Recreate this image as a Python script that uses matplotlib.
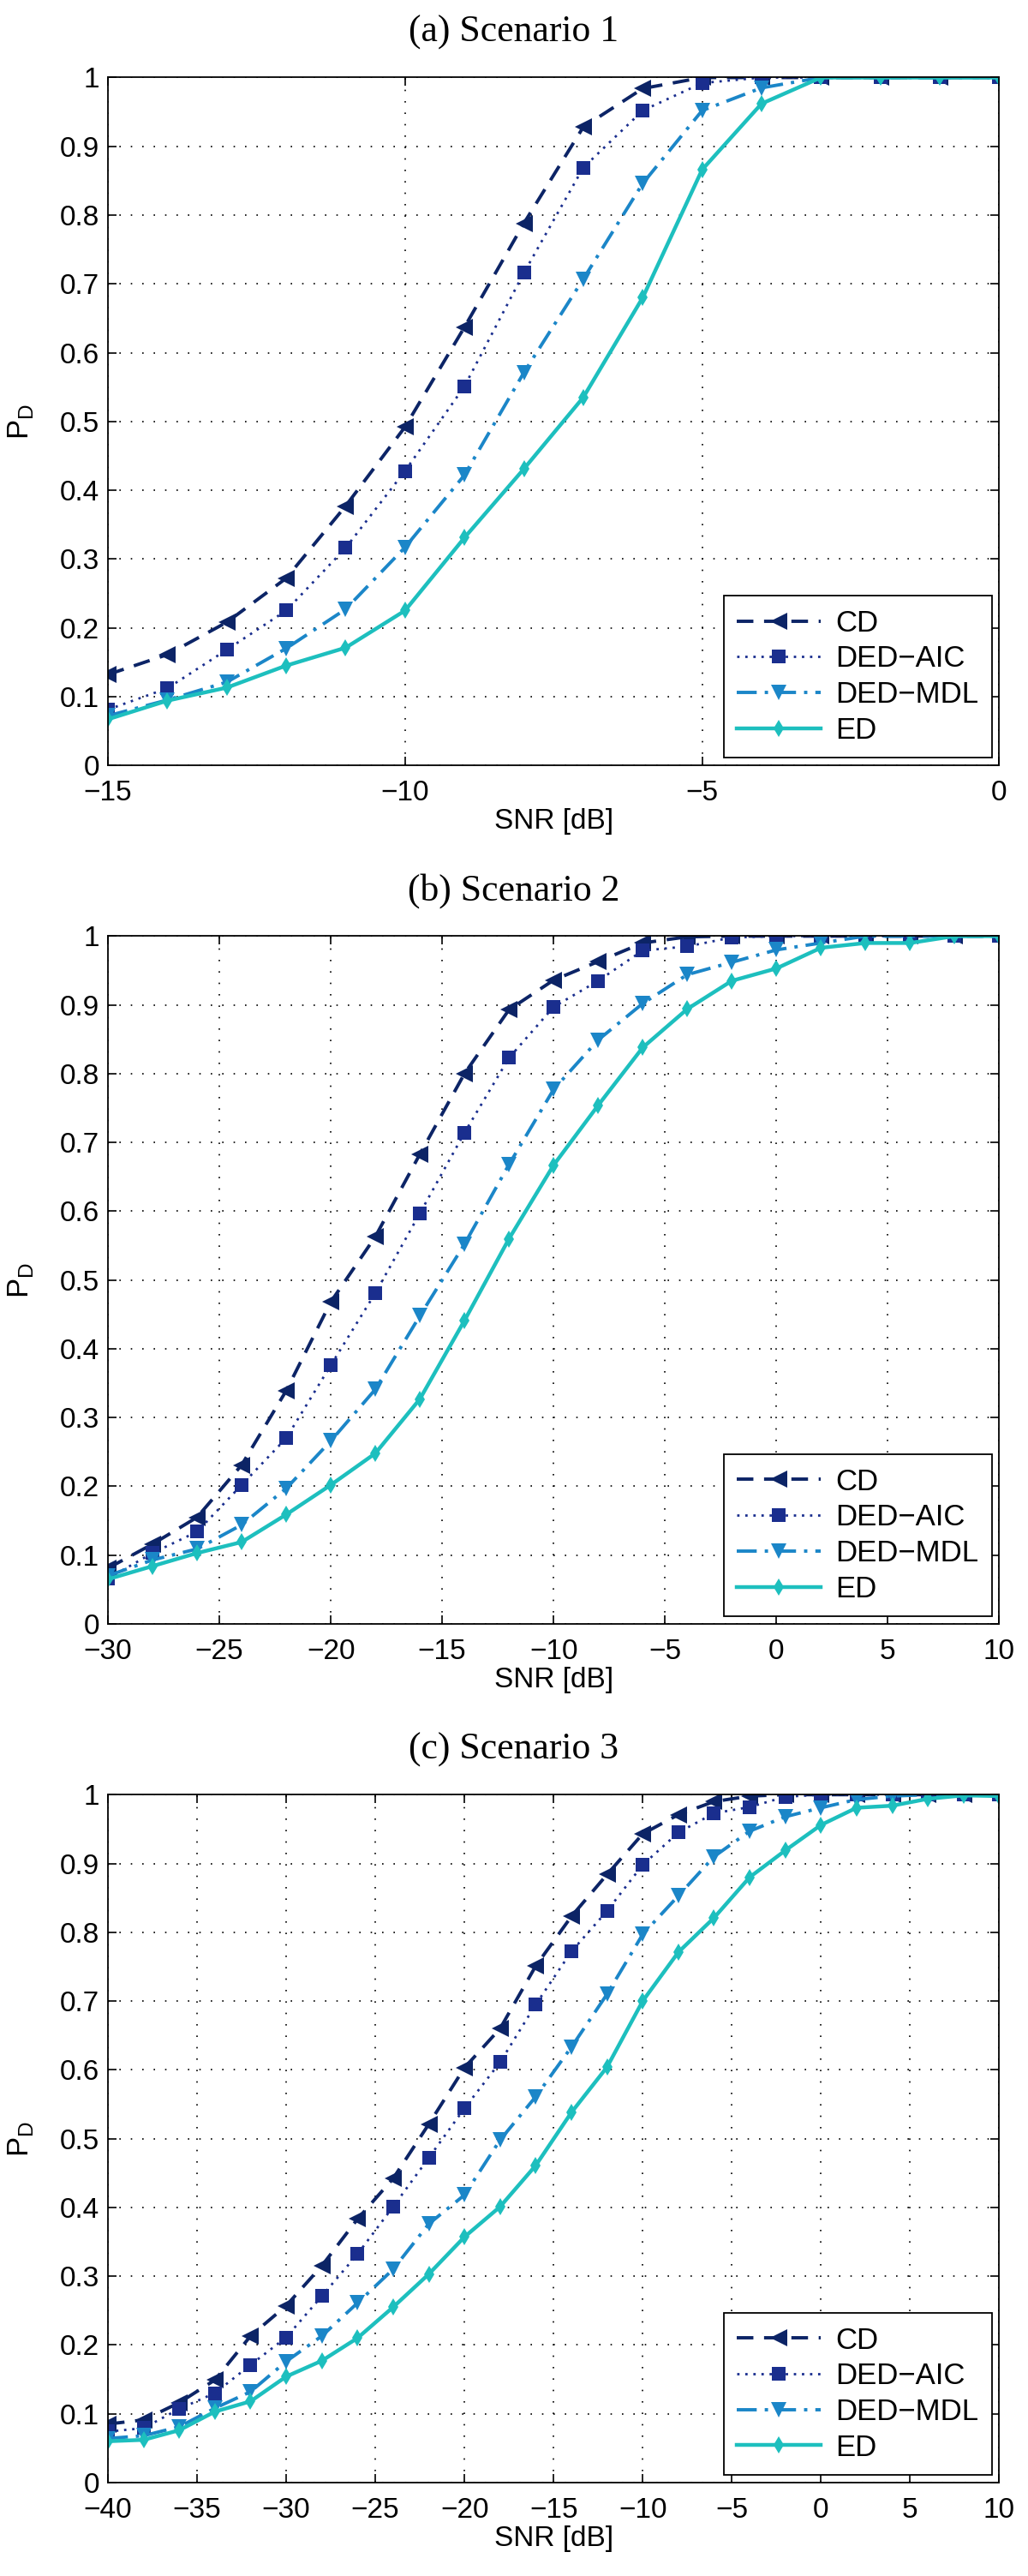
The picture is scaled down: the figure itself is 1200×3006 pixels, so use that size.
import matplotlib
matplotlib.use("Agg")
import matplotlib.pyplot as plt

plt.rcParams['font.family'] = ['Liberation Sans', 'DejaVu Sans']
plt.rcParams['mathtext.fontset'] = 'custom'
plt.rcParams['mathtext.rm'] = 'Liberation Sans'

# --- DATA ---
titles = ["(a) Scenario 1", "(b) Scenario 2", "(c) Scenario 3"]
series_names = ["CD", "DED\u2212AIC", "DED\u2212MDL", "ED"]

snr_a = list(range(-15, 1, 1))
cd_a = [0.132, 0.161, 0.208, 0.272, 0.377, 0.492, 0.637, 0.788, 0.928, 0.984, 1.0, 1.0, 1.0, 1.0, 1.0, 1.0]
aic_a = [0.081, 0.112, 0.168, 0.225, 0.316, 0.428, 0.551, 0.716, 0.869, 0.952, 0.992, 1.0, 1.0, 1.0, 1.0, 1.0]
mdl_a = [0.072, 0.095, 0.121, 0.17, 0.227, 0.317, 0.422, 0.571, 0.707, 0.846, 0.952, 0.985, 1.0, 1.0, 1.0, 1.0]
ed_a = [0.067, 0.094, 0.113, 0.145, 0.171, 0.225, 0.331, 0.431, 0.535, 0.68, 0.866, 0.962, 1.0, 1.0, 1.0, 1.0]

snr_b = list(range(-30, 11, 2))
cd_b = [0.081, 0.116, 0.155, 0.231, 0.339, 0.468, 0.563, 0.683, 0.80, 0.893, 0.936, 0.963, 0.99, 0.999, 1.0,
        1.0, 1.0, 1.0, 1.0, 1.0, 1.0]
aic_b = [0.066, 0.103, 0.134, 0.202, 0.27, 0.376, 0.481, 0.597, 0.714, 0.823, 0.897, 0.935, 0.979, 0.985, 0.998,
         1.0, 1.0, 1.0, 1.0, 1.0, 1.0]
mdl_b = [0.07, 0.093, 0.109, 0.144, 0.197, 0.266, 0.341, 0.448, 0.552, 0.668, 0.777, 0.849, 0.902, 0.944, 0.962,
         0.98, 0.99, 1.0, 1.0, 1.0, 1.0]
ed_b = [0.065, 0.084, 0.103, 0.119, 0.159, 0.202, 0.248, 0.327, 0.441, 0.56, 0.667, 0.754, 0.838, 0.894, 0.935,
        0.953, 0.983, 0.99, 0.99, 1.0, 1.0]

snr_c = list(range(-40, 11, 2))
cd_c = [0.085, 0.091, 0.116, 0.149, 0.213, 0.257, 0.315, 0.383, 0.442, 0.521, 0.603, 0.66, 0.751, 0.823, 0.884,
        0.943, 0.971, 0.99, 0.998, 1.0, 1.0, 1.0, 1.0, 1.0, 1.0, 1.0]
aic_c = [0.074, 0.079, 0.107, 0.13, 0.171, 0.211, 0.271, 0.332, 0.401, 0.472, 0.544, 0.611, 0.695, 0.772, 0.831,
         0.898, 0.945, 0.973, 0.982, 0.997, 1.0, 1.0, 1.0, 1.0, 1.0, 1.0]
mdl_c = [0.064, 0.068, 0.081, 0.108, 0.132, 0.176, 0.213, 0.261, 0.31, 0.376, 0.418, 0.498, 0.561, 0.633, 0.71,
         0.797, 0.853, 0.91, 0.947, 0.968, 0.981, 0.993, 0.998, 1.0, 1.0, 1.0]
ed_c = [0.06, 0.062, 0.076, 0.103, 0.118, 0.154, 0.177, 0.21, 0.255, 0.303, 0.357, 0.401, 0.461, 0.538, 0.604,
        0.70, 0.771, 0.821, 0.88, 0.919, 0.956, 0.981, 0.984, 0.994, 0.999, 0.998]

xticks_a = [-15, -10, -5, 0]
xticks_b = [-30, -25, -20, -15, -10, -5, 0, 5, 10]
xticks_c = [-40, -35, -30, -25, -20, -15, -10, -5, 0, 5, 10]
yticks = [0, 0.1, 0.2, 0.3, 0.4, 0.5, 0.6, 0.7, 0.8, 0.9, 1.0]
ytick_labels = ["0", "0.1", "0.2", "0.3", "0.4", "0.5", "0.6", "0.7", "0.8", "0.9", "1"]

# --- STYLES ---
styles = [
    dict(color='#0c2466', ls=(0, (5, 3.2)), lw=2.8, marker='<', ms=14),
    dict(color='#1a2e8e', ls=(0, (1, 2.4)), lw=2.0, marker='s', ms=11),
    dict(color='#1b86c8', ls=(0, (6, 2.4, 1, 2.4)), lw=2.8, marker='v', ms=13),
    dict(color='#1dbfbe', ls='-', lw=3.2, marker='d', ms=10),
]

panels = [
    (snr_a, [cd_a, aic_a, mdl_a, ed_a], xticks_a),
    (snr_b, [cd_b, aic_b, mdl_b, ed_b], xticks_b),
    (snr_c, [cd_c, aic_c, mdl_c, ed_c], xticks_c),
]

fig = plt.figure(figsize=(12, 30.06), dpi=100)
left, width = 0.105, 0.867
bottoms = [0.7029, 0.3696, 0.0363]

for i, (snr, ys, xt) in enumerate(panels):
    ax = fig.add_axes([left, bottoms[i], width, 0.267])
    for name, y, st in zip(series_names, ys, styles):
        ax.plot(snr, y, color=st['color'], linestyle=st['ls'], linewidth=st['lw'],
                marker=st['marker'], markersize=st['ms'], markeredgewidth=0,
                label=name)
    ax.set_xlim(snr[0], snr[-1])
    ax.set_ylim(0, 1)
    ax.set_xticks(xt)
    ax.set_yticks(yticks)
    ax.set_yticklabels(ytick_labels)
    ax.grid(True, color='black', linestyle=(0, (1, 7)), linewidth=1.2)
    ax.tick_params(direction='in', length=7, width=1.2, top=True, right=True,
                   labelsize=24)
    ax.tick_params(axis='x', pad=12)
    ax.tick_params(axis='y', pad=7)
    for sp in ax.spines.values():
        sp.set_linewidth(1.3)
    ax.set_xlabel("SNR [dB]", fontsize=24)
    ax.xaxis.set_label_coords(0.5, -0.062)
    ax.set_ylabel(r"P$_{\mathrm{D}}$", fontsize=25)
    ax.yaxis.set_label_coords(-0.082, 0.5)
    # caption is centred on the page, not on the axes
    ax.set_title(titles[i], fontsize=31.5, family=['Liberation Serif', 'DejaVu Serif'],
                 x=(0.5 - left) / width, pad=30)
    leg = ax.legend(loc='lower right', fontsize=25, handlelength=2.8, handletextpad=0.5,
                    labelspacing=0.25, borderpad=0.45, borderaxespad=0.25,
                    fancybox=False, framealpha=1, edgecolor='black')
    leg.get_frame().set_linewidth(1.3)

fig.savefig("out.png", dpi=100)
